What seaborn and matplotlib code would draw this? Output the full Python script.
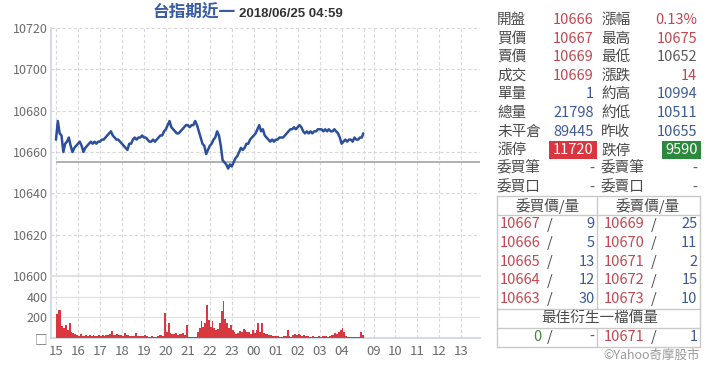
import matplotlib
matplotlib.use("Agg")
import numpy as np
import pandas as pd
import matplotlib.pyplot as plt
import seaborn as sns
from matplotlib.patches import Rectangle
from matplotlib.lines import Line2D

sns.set_theme(style="white")
plt.rcParams['font.family'] = ['Noto Sans CJK TC', 'DejaVu Sans']

# ---------------- data ----------------
TITLE = "台指期近一"
STAMP = "2018/06/25 04:59"
PREV_CLOSE = 10655
SESSION_GAP_MIN = 12          # blank minutes between night and day session on the axis

# night session price, every 5 minutes from 15:00, then last trade at 04:59
price = [10666, 10675, 10669, 10668, 10660, 10664, 10665, 10667, 10663, 10660, 10662, 10663,
         10664, 10665, 10663, 10660, 10662, 10663, 10664, 10665, 10664, 10665, 10664, 10665,
         10665, 10666, 10666, 10667, 10668, 10669, 10670, 10668, 10667, 10666, 10666, 10665,
         10664, 10663, 10662, 10661, 10664, 10664, 10666, 10667, 10666, 10667, 10667, 10668,
         10667, 10667, 10666, 10665, 10665, 10666, 10665, 10666, 10667, 10668, 10668, 10670,
         10671, 10673, 10675, 10672, 10671, 10670, 10669, 10669, 10670, 10671, 10672, 10673,
         10673, 10672, 10673, 10673, 10675, 10673, 10670, 10667, 10664, 10663, 10659, 10661,
         10663, 10664, 10666, 10667, 10670, 10668, 10663, 10656, 10655, 10654, 10652, 10654,
         10653, 10655, 10657, 10658, 10660, 10662, 10661, 10662, 10664, 10664, 10666, 10667,
         10668, 10669, 10671, 10673, 10670, 10671, 10668, 10667, 10666, 10665, 10666, 10665,
         10666, 10666, 10667, 10667, 10667, 10668, 10669, 10670, 10671, 10671, 10672, 10671,
         10672, 10673, 10672, 10670, 10669, 10670, 10669, 10670, 10669, 10670, 10670, 10671,
         10671, 10671, 10670, 10671, 10670, 10671, 10670, 10670, 10671, 10670, 10669, 10667,
         10664, 10665, 10666, 10665, 10666, 10666, 10665, 10667, 10666, 10666, 10667, 10667,
         10669]

# volume per 5-minute bucket from 15:00
volume = [230, 275, 275, 120, 100, 130, 80, 150, 60, 48, 40, 25,
          22, 38, 20, 15, 28, 20, 25, 18, 30, 15, 22, 25,
          20, 28, 22, 30, 25, 35, 63, 30, 25, 35, 28, 30,
          22, 48, 30, 25, 18, 22, 20, 48, 20, 15, 22, 18,
          25, 15, 12, 10, 15, 12, 10, 18, 25, 30, 20, 240,
          60, 145, 50, 40, 35, 45, 30, 40, 35, 50, 30, 122,
          10, 8, 10, 8, 12, 60, 100, 160, 110, 150, 320, 175,
          110, 160, 100, 80, 90, 150, 260, 360, 180, 150, 100, 130,
          80, 60, 40, 50, 70, 60, 90, 80, 60, 55, 40, 75,
          50, 80, 145, 60, 150, 50, 40, 40, 30, 25, 20, 20,
          15, 15, 10, 10, 15, 20, 75, 20, 10, 25, 40, 30,
          35, 30, 20, 25, 15, 15, 10, 10, 15, 10, 10, 15,
          10, 15, 20, 15, 10, 20, 25, 30, 50, 40, 55, 80,
          100, 60, 20, 10, 10, 8, 8, 5, 5, 10, 55, 30]

tick_times = ["15:00", "16:00", "17:00", "18:00", "19:00", "20:00", "21:00", "22:00", "23:00",
              "00:00", "01:00", "02:00", "03:00", "04:00", "09:00", "10:00", "11:00", "12:00", "13:00"]
tick_labels = ["15", "16", "17", "18", "19", "20", "21", "22", "23",
               "00", "01", "02", "03", "04", "09", "10", "11", "12", "13"]
session_break = "05:00"

price_ticks = [10600, 10620, 10640, 10660, 10680, 10700, 10720]
vol_ticks = [0, 200, 400]
vol_tick_labels = ["□", "200", "400"]

# quote panel
q_lab_l = ["開盤", "買價", "賣價", "成交", "單量", "總量", "未平倉", "漲停", "委買筆", "委買口"]
q_val_l = ["10666", "10667", "10669", "10669", "1", "21798", "89445", "11720", "-", "-"]
q_col_l = ["r", "r", "r", "r", "b", "b", "b", "boxr", "g", "g"]
q_lab_r = ["漲幅", "最高", "最低", "漲跌", "約高", "約低", "昨收", "跌停", "委賣筆", "委賣口"]
q_val_r = ["0.13%", "10675", "10652", "14", "10994", "10511", "10655", "9590", "-", "-"]
q_col_r = ["r", "r", "k", "r", "b", "b", "b", "boxg", "g", "g"]

bid_px = ["10667", "10666", "10665", "10664", "10663"]
bid_qty = ["9", "5", "13", "12", "30"]
ask_px = ["10669", "10670", "10671", "10672", "10673"]
ask_qty = ["25", "11", "2", "15", "10"]
best_bid = ("0", "-")
best_ask = ("10671", "1")

# ---------------- helpers ----------------
def to_idx(hhmm):
    h, m = map(int, hhmm.split(":"))
    t = h * 60 + m
    if t >= 14 * 60 + 30:
        return t - 900
    if t <= 5 * 60:
        return t + 540
    return 840 + SESSION_GAP_MIN + (t - (8 * 60 + 45))

times = pd.date_range("2018-06-24 15:00", periods=len(price) - 1, freq="5min").strftime("%H:%M").tolist()
times.append("04:59")
price_idx = [to_idx(t) for t in times]
vol_idx = [to_idx(t) for t in pd.date_range("2018-06-24 15:00", periods=len(volume), freq="5min").strftime("%H:%M")]
df_p = pd.DataFrame({"idx": price_idx, "price": price})
df_v = pd.DataFrame({"idx": vol_idx, "vol": volume})

W, H = 720, 380
def fx(x): return x / W
def fy(y): return 1 - y / H

BLUE = "#2b4f9d"
RED = "#d8383f"
SPINE = "#c7d5e4"
GRID = "#d8d8d8"
TXT = "#6b6b6b"

fig = plt.figure(figsize=(7.2, 3.8), dpi=100)
fig.patch.set_facecolor("white")

L, R = 51, 480
axp = fig.add_axes([fx(L), fy(276), (R - L) / W, (276 - 28) / H])
axv = fig.add_axes([fx(L), fy(338), (R - L) / W, (338 - 276) / H])

xl = (-13.65, 1157.8)
for ax in (axp, axv):
    ax.set_xlim(*xl)
    ax.set_facecolor("white")
    for s in ax.spines.values():
        s.set_visible(False)
    ax.spines["left"].set_visible(True)
    ax.spines["left"].set_color(SPINE)
    ax.spines["left"].set_linewidth(1.2)
    vl = [to_idx(t) for t in tick_times] + [to_idx(session_break)]
    for v in vl:
        ax.axvline(v, color=GRID, lw=0.8, ls=(0, (3, 2)), zorder=0)

# price panel
axp.set_ylim(price_ticks[0], price_ticks[-1])
for v in price_ticks[1:]:
    axp.axhline(v, color=GRID, lw=0.8, ls=(0, (3, 2)), zorder=0)
axp.hlines(PREV_CLOSE, price_idx[0], xl[1], color="#9a9a9a", lw=1.1, zorder=1)
sns.lineplot(data=df_p, x="idx", y="price", ax=axp, color=BLUE, lw=1.8, estimator=None, zorder=3)
axp.set_yticks(price_ticks)
axp.set_yticklabels([str(v) for v in price_ticks])
axp.set_xticks([])
axp.set_xlabel("")
axp.set_ylabel("")
axp.tick_params(axis="y", length=0, pad=2.5, labelsize=9, labelcolor=TXT)

# volume panel
sns.histplot(data=df_v, x="idx", weights="vol", binwidth=5, binrange=(0, 840),
             color=RED, alpha=1, linewidth=0, ax=axv, zorder=3)
axv.set_ylim(0, 600)
for v in vol_ticks[1:]:
    axv.axhline(v, color="#e2e2e2", lw=0.9, zorder=0)
axv.spines["top"].set_visible(True)
axv.spines["top"].set_color("#dedede")
axv.spines["bottom"].set_visible(True)
axv.spines["bottom"].set_color(SPINE)
axv.spines["bottom"].set_linewidth(1.2)
axv.set_yticks(vol_ticks)
axv.set_yticklabels(vol_tick_labels)
axv.set_xticks([to_idx(t) for t in tick_times])
axv.set_xticklabels(tick_labels)
axv.set_xlabel("")
axv.set_ylabel("")
axv.tick_params(axis="y", length=0, pad=2.5, labelsize=9, labelcolor=TXT)
axv.tick_params(axis="x", length=0, pad=5, labelsize=9.5, labelcolor=TXT)

# title
fig.text(fx(152), fy(17), TITLE, fontsize=12, color="#3a5ca5", fontweight="bold", va="baseline")
fig.text(fx(239), fy(17), STAMP, fontsize=9.5, color="#333333", fontweight="bold", va="baseline",
         family=["Liberation Sans", "DejaVu Sans"])

# quote panel
CRED = "#c5474f"
CBLUE = "#3d5a98"
CLAB = "#4a4a4a"
CGRAY = "#5a5a5a"
cmap = {"r": CRED, "b": CBLUE, "k": CGRAY, "g": CGRAY}
FS = 10.5
row_y = [20 + 18.6 * i for i in range(len(q_lab_l))]
for i, y in enumerate(row_y):
    fig.text(fx(497), fy(y), q_lab_l[i], fontsize=FS, color=CLAB, va="center", ha="left")
    fig.text(fx(601), fy(y), q_lab_r[i], fontsize=FS, color=CLAB, va="center", ha="left")
    for val, col, xr, box in ((q_val_l[i], q_col_l[i], 594, (548.5, 597)),
                              (q_val_r[i], q_col_r[i], 697.5, (661.5, 700.5))):
        if col.startswith("box"):
            fc = "#d9363e" if col == "boxr" else "#2c8a3c"
            fig.patches.append(Rectangle((fx(box[0]), fy(y + 8.8)), (box[1] - box[0]) / W, 17.6 / H,
                                         transform=fig.transFigure, facecolor=fc, edgecolor="none"))
            fig.text(fx(xr), fy(y), val, fontsize=FS, color="white", va="center", ha="right")
        else:
            fig.text(fx(xr), fy(y), val, fontsize=FS, color=cmap[col], va="center", ha="right")

# order book table
TB = "#c9c9c9"
def hline(y, x0=497.3, x1=700):
    fig.lines.append(Line2D([fx(x0), fx(x1)], [fy(y), fy(y)], transform=fig.transFigure, color=TB, lw=1))
def vline(x, y0, y1):
    fig.lines.append(Line2D([fx(x), fx(x)], [fy(y0), fy(y1)], transform=fig.transFigure, color=TB, lw=1))
for y in (196, 215, 309, 327.5, 346.5):
    hline(y)
vline(497.3, 196, 346.5)
vline(700, 196, 346.5)
vline(597.3, 196, 309)
vline(597.3, 327.5, 346.5)
fig.text(fx(548), fy(206), "委買價/量", fontsize=FS, color=CLAB, ha="center", va="center")
fig.text(fx(648), fy(206), "委賣價/量", fontsize=FS, color=CLAB, ha="center", va="center")
book_y = [224.5, 243, 261.7, 280.5, 299.2]
for i, y in enumerate(book_y):
    fig.text(fx(499.5), fy(y), bid_px[i], fontsize=FS, color=CRED, ha="left", va="center")
    fig.text(fx(550), fy(y), "/", fontsize=FS, color=CLAB, ha="center", va="center")
    fig.text(fx(594.5), fy(y), bid_qty[i], fontsize=FS, color=CBLUE, ha="right", va="center")
    fig.text(fx(604), fy(y), ask_px[i], fontsize=FS, color=CRED, ha="left", va="center")
    fig.text(fx(653.5), fy(y), "/", fontsize=FS, color=CLAB, ha="center", va="center")
    fig.text(fx(697.5), fy(y), ask_qty[i], fontsize=FS, color=CBLUE, ha="right", va="center")
fig.text(fx(600), fy(318.3), "最佳衍生一檔價量", fontsize=FS, color=CLAB, ha="center", va="center")
yb = 336.8
fig.text(fx(542), fy(yb), best_bid[0], fontsize=FS, color="#3c8a3c", ha="right", va="center")
fig.text(fx(550), fy(yb), "/", fontsize=FS, color=CLAB, ha="center", va="center")
fig.text(fx(594.5), fy(yb), best_bid[1], fontsize=FS, color=CGRAY, ha="right", va="center")
fig.text(fx(604), fy(yb), best_ask[0], fontsize=FS, color=CRED, ha="left", va="center")
fig.text(fx(653.5), fy(yb), "/", fontsize=FS, color=CLAB, ha="center", va="center")
fig.text(fx(697.5), fy(yb), best_ask[1], fontsize=FS, color=CBLUE, ha="right", va="center")
fig.text(fx(700), fy(355), "©Yahoo奇摩股市", fontsize=9, color="#9a9a9a", ha="right", va="center")

fig.savefig("out.png", dpi=100, facecolor="white")
